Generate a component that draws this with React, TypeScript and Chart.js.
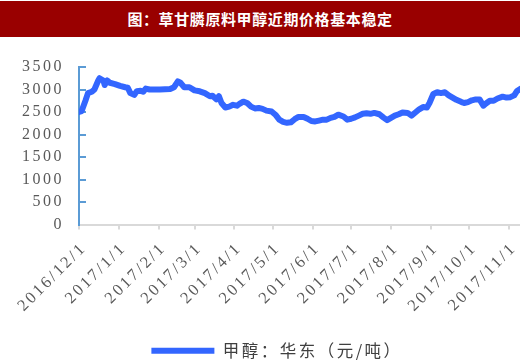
import { useEffect, useRef } from 'react';
import { Chart, registerables } from 'chart.js';

Chart.register(...registerables);

const titleText = '图：草甘膦原料甲醇近期价格基本稳定';
const seriesName = '甲醇：华东（元/吨）';

// x positions: days since 2016/12/1
const tickDays = [0, 31, 62, 90, 121, 151, 182, 212, 243, 274, 304, 335];
const tickLabels = [
  '2016/12/1', '2017/1/1', '2017/2/1', '2017/3/1', '2017/4/1', '2017/5/1',
  '2017/6/1', '2017/7/1', '2017/8/1', '2017/9/1', '2017/10/1', '2017/11/1',
];

const days = [
  0, 2, 5, 7, 10, 12, 15, 16, 19, 20, 22, 24, 28, 32, 36, 38, 40, 43, 45, 48,
  50, 52, 55, 63, 71, 74, 77, 79, 82, 86, 90, 94, 98, 102, 104, 107, 109, 111, 114, 117,
  120, 123, 125, 128, 131, 134, 137, 140, 143, 146, 150, 153, 156, 159, 162, 165, 168, 171, 175, 178,
  181, 184, 187, 190, 193, 196, 199, 202, 206, 209, 212, 215, 218, 221, 224, 227, 230, 234, 237, 240,
  243, 246, 249, 252, 256, 259, 262, 265, 268, 271, 273, 276, 279, 282, 285, 288, 291, 294, 298, 300,
  303, 306, 309, 312, 315, 317, 320, 323, 326, 330, 333, 336, 339, 341, 344,
];
const prices = [
  2500, 2520, 2750, 2920, 2950, 3000, 3200, 3250, 3200, 3100, 3200, 3150, 3120, 3080, 3050, 3040, 2920, 2880, 2960, 2970,
  2950, 3020, 3000, 3000, 3010, 3050, 3180, 3150, 3050, 3050, 2980, 2960, 2920, 2850, 2860, 2780, 2850, 2700, 2600, 2620,
  2660, 2640, 2680, 2730, 2700, 2620, 2580, 2590, 2570, 2530, 2510, 2440, 2330, 2280, 2260, 2270, 2340, 2390, 2390, 2350,
  2300, 2290, 2310, 2330, 2330, 2370, 2390, 2440, 2400, 2330, 2350, 2380, 2420, 2460, 2470, 2460, 2480, 2450, 2380, 2320,
  2370, 2420, 2450, 2490, 2480, 2420, 2490, 2560, 2610, 2600, 2700, 2900, 2940, 2920, 2940, 2870, 2820, 2770, 2720, 2700,
  2720, 2760, 2780, 2780, 2640, 2690, 2750, 2750, 2800, 2840, 2820, 2830, 2870, 2960, 3020,
];

const Y_MIN = 0;
const Y_MAX = 3500;
const Y_STEP = 500;
const X_MAX = 370;

const spacingPlugin = {
  id: 'letterSpacing',
  beforeUpdate(chart: any) {
    chart.ctx.letterSpacing = '2.5px';
  },
  beforeDraw(chart: any) {
    chart.ctx.letterSpacing = '2.5px';
  },
};

export default function App() {
  const canvasRef = useRef<HTMLCanvasElement | null>(null);

  useEffect(() => {
    document.body.style.margin = '0';
    document.body.style.overflow = 'hidden';
    const canvas = canvasRef.current;
    if (!canvas) return;
    const chart = new Chart(canvas, {
      type: 'line',
      data: {
        datasets: [
          {
            label: seriesName,
            data: days.map((d, i) => ({ x: d, y: prices[i] })),
            borderColor: '#3366FF',
            backgroundColor: '#3366FF',
            borderWidth: 6,
            borderCapStyle: 'round',
            borderJoinStyle: 'round',
            pointRadius: 0,
            tension: 0,
            fill: false,
          },
        ],
      },
      options: {
        animation: false,
        responsive: false,
        devicePixelRatio: 1,
        layout: { padding: { top: 67, left: 0, right: 0, bottom: 0 } },
        plugins: {
          title: { display: false },
          tooltip: { enabled: false },
          legend: {
            display: true,
            position: 'bottom',
            labels: {
              usePointStyle: true,
              pointStyle: 'line',
              pointStyleWidth: 63,
              color: '#404040',
              font: { family: "'Noto Sans CJK SC'", size: 16.5 },
            },
          },
        },
        scales: {
          x: {
            type: 'linear',
            min: 0,
            max: X_MAX,
            afterBuildTicks: (scale: any) => {
              scale.ticks = tickDays.map((v) => ({ value: v }));
            },
            afterFit: (scale: any) => {
              scale.height = 108;
            },
            border: { display: true, color: '#D9D9D9', width: 2 },
            grid: {
              drawOnChartArea: false,
              drawTicks: true,
              tickLength: 5,
              color: '#D9D9D9',
              lineWidth: 2,
            },
            ticks: {
              autoSkip: false,
              maxRotation: 45,
              minRotation: 45,
              padding: 9,
              labelOffset: 5,
              color: '#595959',
              font: { family: "'Liberation Serif'", size: 16.5 },
              callback: (value: any) => {
                const idx = tickDays.indexOf(Number(value));
                return idx >= 0 ? tickLabels[idx] : '';
              },
            },
          },
          y: {
            type: 'linear',
            min: Y_MIN,
            max: Y_MAX,
            afterFit: (scale: any) => {
              scale.width = 79;
            },
            border: { display: true, color: '#5B9BD5', width: 2 },
            grid: {
              drawOnChartArea: false,
              drawTicks: true,
              tickLength: -7,
              color: '#5B9BD5',
              lineWidth: 2,
            },
            ticks: {
              stepSize: Y_STEP,
              padding: 22,
              color: '#595959',
              font: { family: "'Liberation Serif'", size: 16 },
              callback: (value: any) => String(value),
            },
          },
        },
      },
      plugins: [spacingPlugin],
    } as any);
    return () => chart.destroy();
  }, []);

  return (
    <div style={{ position: 'relative', width: 520, height: 361, overflow: 'hidden', background: '#FFFFFF' }}>
      <canvas
        ref={canvasRef}
        width={554}
        height={369}
        style={{ position: 'absolute', left: 0, top: 0, width: 554, height: 369 }}
      />
      <div
        style={{
          position: 'absolute',
          left: 0,
          top: 1,
          width: 520,
          height: 36,
          background: '#990000',
          color: '#FFFFFF',
          fontFamily: "'Noto Sans CJK SC', sans-serif",
          fontWeight: 700,
          fontSize: 15,
          letterSpacing: '0.6px',
          lineHeight: '36px',
          textAlign: 'center',
        }}
      >
        {titleText}
      </div>
    </div>
  );
}
